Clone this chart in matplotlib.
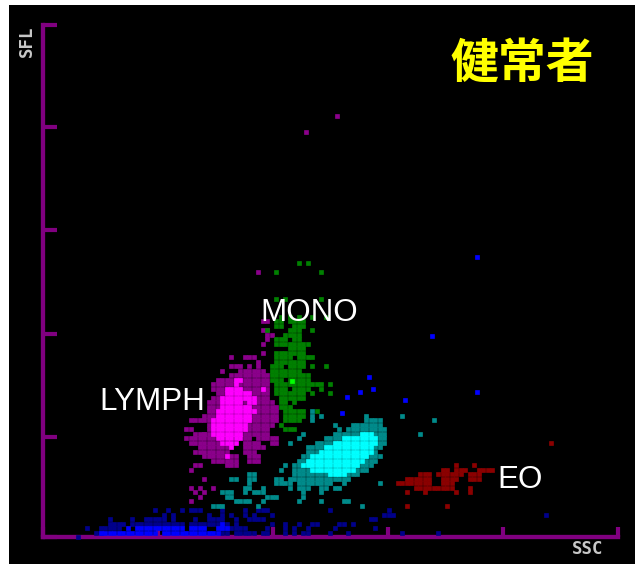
import matplotlib
matplotlib.use("Agg")
import matplotlib.pyplot as plt
from matplotlib.patches import Rectangle

purple_runs = [
 (40,42,42),(40,45,47),(39,48,48),(38,42,44),(38,46,46),(38,48,48),(37,40,40),(37,44,49),(36,42,50),
 (35,39,50),(34,38,50),(33,38,50),(32,39,50),(31,38,50),(30,37,51),(29,37,52),(28,37,52),(27,36,52),
 (26,33,35),(26,36,52),(25,37,51),(24,32,33),(24,37,50),(23,34,36),(23,36,50),(22,32,34),(22,35,38),
 (22,45,46),(22,48,52),(21,33,34),(21,35,39),(21,45,48),(21,51,52),(20,35,41),(20,45,49),(19,34,41),
 (19,45,47),(18,36,43),(18,46,48),(17,38,43),(17,46,48),(16,34,35),(16,41,43),(15,33,33),(13,36,36),
 (11,33,33),(11,35,35),(11,38,38),(10,34,34),(10,36,36),(9,35,35),(8,33,33),
 (41,49,49),(43,49,49),(44,50,50),(45,50,51),(46,49,50),(48,49,50),(59,48,48),
]
purple_x = [58.7, 65.6]
purple_y = [90, 93.5]

magenta_runs = [
 (35,43,44),(34,43,43),(33,41,44),(32,41,46),(31,40,47),(30,40,44),(30,46,47),(29,40,46),(28,39,47),
 (27,39,46),(26,38,46),(25,38,45),(24,38,45),(23,38,44),(22,39,44),(21,40,43),(20,42,42),(18,41,41),
 (33,49,49),
]

green_runs = [
 (49,53,53),(49,55,55),(49,57,57),(49,60,60),(49,63,63),(48,52,53),(48,55,58),(47,52,53),(47,56,58),
 (46,50,50),(46,55,57),(46,60,60),(45,54,57),(44,52,54),(44,56,57),(43,52,54),(43,55,58),(43,59,59),
 (42,55,58),(41,52,53),(41,54,58),(40,52,55),(40,57,60),(39,52,58),(38,51,53),(38,55,58),(38,60,60),
 (38,63,63),(37,51,57),(36,51,59),(35,51,53),(35,55,59),(34,52,59),(34,60,62),(34,64,64),(33,52,54),
 (33,56,59),(33,62,62),(32,52,58),(32,60,60),(32,64,64),(31,53,58),(30,53,54),(30,56,56),(29,53,55),
 (28,54,58),(28,61,61),(27,54,58),(26,54,57),(25,53,53),(24,54,56),
 (53,52,52),(53,54,54),(53,62,62),(59,52,52),(59,62,62),(61,57,57),(61,59,59),
]
lime_x = [55.6]
lime_y = [34.7]

teal_runs = [
 (28,60,60),(27,60,60),(27,62,62),(27,72,72),(26,72,75),(26,60,60),(25,65,65),(25,69,75),(24,66,66),
 (24,68,76),(23,58,58),(23,65,76),(22,57,57),(22,63,76),(21,55,55),(21,61,76),(20,59,75),(19,59,74),
 (18,58,75),(17,57,74),(16,54,54),(16,56,73),(15,53,53),(15,56,72),(14,56,70),(13,52,53),(13,55,55),
 (13,56,68),(12,52,55),(12,57,60),(12,61,64),(12,67,67),(11,55,55),(11,57,59),(11,62,63),(11,65,66),
 (10,58,58),(10,62,62),(9,58,58),(8,57,57),(8,62,62),(8,67,67),(7,71,71),
 (13,42,43),(13,46,47),(14,46,47),(12,46,46),(11,45,46),(11,49,49),(10,40,42),(10,45,45),(10,47,49),
 (9,41,42),(9,50,52),(8,43,46),(8,49,49),(7,38,40),(7,48,48),
 (27,80,80),(26,87,87),(23,84,84),(12,75,75),(8,68,68),
]

cyan_runs = [
 (23,71,73),(22,67,74),(21,65,74),(20,63,73),(19,62,73),(18,60,72),(17,59,71),(16,58,70),(15,60,69),
 (14,64,67),
]

dark_blue_runs = [
 (0,8,8),(1,12,13),(1,40,41),(1,43,47),(1,49,50),(1,54,54),(1,56,56),(1,58,59),(2,10,10),(2,13,13),
 (2,14,17),(2,40,42),(2,43,45),(2,50,50),(2,54,54),(2,56,56),(2,59,59),(3,15,18),(3,20,20),(3,21,31),
 (3,33,35),(3,36,41),(3,43,43),(3,51,51),(3,54,54),(3,57,57),(3,60,61),(4,15,15),(4,20,20),(4,23,25),
 (4,26,27),(4,29,29),(4,34,34),(4,37,39),(4,40,40),(4,43,43),(4,46,49),(5,27,27),(5,29,29),(5,37,37),
 (5,40,40),(5,42,42),(5,45,45),(5,47,47),(5,51,51),(6,25,25),(6,28,28),(6,31,31),(6,33,35),(6,40,40),
 (6,45,45),(6,48,50),
 (6,64,64),(5,76,78),(6,77,77),(4,73,74),(2,74,74),(3,66,67),(3,69,69),(2,65,65),(1,64,64),(1,68,68),
 (1,80,80),(1,88,88),(5,112,112),
]

blue_runs = [
 (1,13,17),(1,18,25),(1,27,37),(1,38,39),(2,19,19),(2,21,31),(2,33,36),(2,39,41),(3,40,40),
]
blue_x = [96.7, 86.7, 96.7, 80.7, 72.7, 70.7, 73.6, 67.8, 66.7]
blue_y = [62.2, 44.7, 32.2, 30.4, 35.6, 32.2, 33.0, 31.2, 27.6]

red_runs = [
 (16,92,92),(16,96,96),(15,89,90),(15,92,94),(15,97,100),(14,84,86),(14,88,93),(14,95,97),(13,81,83),
 (13,84,86),(13,89,92),(13,95,97),(12,79,83),(12,84,86),(12,89,91),(11,83,87),(11,88,91),(11,95,95),
 (10,81,81),(10,85,85),(10,92,92),(10,95,95),(7,81,81),(7,90,90),(21,113,113),
]

x_tick_values = [0, 25.6, 51.2, 76.8, 102.4, 128]
y_tick_values = [0, 22.2, 45.1, 68.2, 91.1, 113.8]


def cells(runs):
    xs, ys = [], []
    for row, first, last in runs:
        for col in range(first, last + 1):
            xs.append(col)
            ys.append(row)
    return xs, ys


W, H = 635, 564
fig = plt.figure(figsize=(W / 100, H / 100), dpi=100, facecolor="white")
fig.patches.append(Rectangle((9 / W, 0), (W - 9) / W, (H - 5) / H, transform=fig.transFigure,
                             facecolor="black", edgecolor="none", zorder=-5))
ax = fig.add_axes([42.5 / W, 1 - 537 / H, 575.5 / W, 512 / H])
ax.set_facecolor("none")
ax.set_xlim(0, 128)
ax.set_ylim(0, 113.8)

AXIS = "#800080"
for s in ("top", "right"):
    ax.spines[s].set_visible(False)
for s in ("left", "bottom"):
    ax.spines[s].set_color(AXIS)
    ax.spines[s].set_linewidth(3.1)
ax.set_xticks(x_tick_values)
ax.set_yticks(y_tick_values)
ax.set_xticklabels([])
ax.set_yticklabels([])
ax.tick_params(axis="x", direction="in", length=7.5, width=3, color=AXIS)
ax.tick_params(axis="y", direction="in", length=10, width=3, color=AXIS)

SIZE = 11.4


def draw(xs, ys, color, z):
    pts = ax.scatter(xs, ys, s=SIZE, marker="s", c=color, linewidths=0, zorder=z, clip_on=False)
    pts.set_snap(False)


draw(*cells(dark_blue_runs), "#00008B", 3)
draw(*cells(blue_runs), "#0000FF", 4)
draw(blue_x, blue_y, "#0000FF", 4)
draw(*cells(purple_runs), "#8B008B", 3)
draw(purple_x, purple_y, "#8B008B", 3)
draw(*cells(green_runs), "#008000", 4)
draw(lime_x, lime_y, "#00FF00", 6)
draw(*cells(magenta_runs), "#FF00FF", 5)
draw(*cells(teal_runs), "#008B8B", 3)
draw(*cells(cyan_runs), "#00FFFF", 5)
draw(*cells(red_runs), "#8B0000", 3)


def label(px, py, text, **kw):
    fig.text(px / W, 1 - py / H, text, zorder=20, **kw)


sans = dict(color="white", fontsize=22.6, family="Liberation Sans", ha="center", va="center")
label(309, 313, "MONO", **sans)
label(152, 402, "LYMPH", **sans)
label(520, 480, "EO", **sans)
label(522, 63, "健常者", color="#FFFF00", fontsize=34.5, fontweight="bold",
      family="Noto Sans CJK JP", ha="center", va="center")
small = dict(color="#C8C8C8", fontsize=12.5, fontweight="bold", family="DejaVu Sans Mono",
             ha="center", va="center")
label(588, 549, "SSC", **small)
label(27, 41, "SFL", rotation=90, **small)

fig.savefig("out.png", dpi=100, facecolor="white")
